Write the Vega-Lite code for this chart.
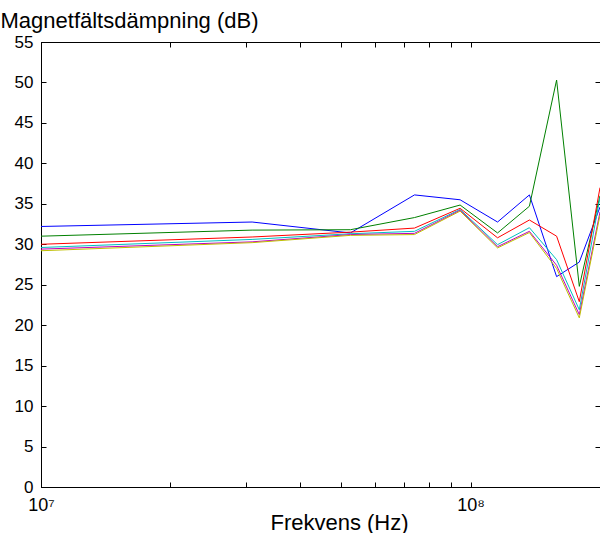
{
  "$schema": "https://vega.github.io/schema/vega-lite/v6.json",
  "width": 559,
  "height": 445,
  "autosize": {"type": "none"},
  "padding": {"left": 41, "top": 42, "right": 0, "bottom": 46},
  "background": "white",
  "config": {
    "font": "Liberation Sans",
    "view": {"stroke": "black", "strokeWidth": 1},
    "axis": {"grid": false, "domainColor": "black", "tickColor": "black", "labelColor": "black", "titleColor": "black", "labelFont": "Liberation Sans", "titleFont": "Liberation Sans", "titleFontWeight": "normal", "labelFontSize": 17, "titleFontSize": 22}
  },
  "data": {"values": [
    {"f": 1e7, "s": "1", "v": 32.2}, {"f": 3.1e7, "s": "1", "v": 32.75}, {"f": 5.25e7, "s": "1", "v": 31.4}, {"f": 7.4e7, "s": "1", "v": 36.1}, {"f": 9.45e7, "s": "1", "v": 35.5}, {"f": 1.155e8, "s": "1", "v": 32.75}, {"f": 1.37e8, "s": "1", "v": 36.1}, {"f": 1.585e8, "s": "1", "v": 26.0}, {"f": 1.79e8, "s": "1", "v": 27.8}, {"f": 2e8, "s": "1", "v": 34.6},
    {"f": 1e7, "s": "2", "v": 31.0}, {"f": 3.1e7, "s": "2", "v": 31.75}, {"f": 5.25e7, "s": "2", "v": 31.8}, {"f": 7.4e7, "s": "2", "v": 33.3}, {"f": 9.45e7, "s": "2", "v": 34.85}, {"f": 1.155e8, "s": "2", "v": 31.4}, {"f": 1.37e8, "s": "2", "v": 34.7}, {"f": 1.585e8, "s": "2", "v": 50.3}, {"f": 1.79e8, "s": "2", "v": 24.8}, {"f": 2e8, "s": "2", "v": 36.0},
    {"f": 1e7, "s": "3", "v": 30.0}, {"f": 3.1e7, "s": "3", "v": 30.9}, {"f": 5.25e7, "s": "3", "v": 31.5}, {"f": 7.4e7, "s": "3", "v": 32.0}, {"f": 9.45e7, "s": "3", "v": 34.45}, {"f": 1.155e8, "s": "3", "v": 30.8}, {"f": 1.37e8, "s": "3", "v": 33.0}, {"f": 1.585e8, "s": "3", "v": 31.0}, {"f": 1.79e8, "s": "3", "v": 22.9}, {"f": 2e8, "s": "3", "v": 37.0},
    {"f": 1e7, "s": "4", "v": 29.6}, {"f": 3.1e7, "s": "4", "v": 30.6}, {"f": 5.25e7, "s": "4", "v": 31.3}, {"f": 7.4e7, "s": "4", "v": 31.6}, {"f": 9.45e7, "s": "4", "v": 34.3}, {"f": 1.155e8, "s": "4", "v": 29.95}, {"f": 1.37e8, "s": "4", "v": 32.05}, {"f": 1.585e8, "s": "4", "v": 28.1}, {"f": 1.79e8, "s": "4", "v": 21.9}, {"f": 2e8, "s": "4", "v": 35.8},
    {"f": 1e7, "s": "5", "v": 29.4}, {"f": 3.1e7, "s": "5", "v": 30.3}, {"f": 5.25e7, "s": "5", "v": 31.2}, {"f": 7.4e7, "s": "5", "v": 31.35}, {"f": 9.45e7, "s": "5", "v": 34.2}, {"f": 1.155e8, "s": "5", "v": 29.7}, {"f": 1.37e8, "s": "5", "v": 31.6}, {"f": 1.585e8, "s": "5", "v": 27.4}, {"f": 1.79e8, "s": "5", "v": 21.3}, {"f": 2e8, "s": "5", "v": 34.0},
    {"f": 1e7, "s": "6", "v": 29.2}, {"f": 3.1e7, "s": "6", "v": 30.2}, {"f": 5.25e7, "s": "6", "v": 31.1}, {"f": 7.4e7, "s": "6", "v": 31.2}, {"f": 9.45e7, "s": "6", "v": 34.1}, {"f": 1.155e8, "s": "6", "v": 29.55}, {"f": 1.37e8, "s": "6", "v": 31.45}, {"f": 1.585e8, "s": "6", "v": 27.0}, {"f": 1.79e8, "s": "6", "v": 20.9}, {"f": 2e8, "s": "6", "v": 33.6}
  ]},
  "layer": [
    {
      "mark": {"type": "line", "strokeWidth": 1, "clip": true},
      "encoding": {
        "x": {"field": "f", "type": "quantitative", "scale": {"type": "log", "domain": [1e7, 2e8], "nice": false},
          "axis": {"orient": "bottom", "title": "Frekvens (Hz)", "titleX": 298, "values": [1e7, 2e7, 3e7, 4e7, 5e7, 6e7, 7e7, 8e7, 9e7, 1e8, 2e8], "labelExpr": "datum.value == 1e7 ? '10⁷' : (datum.value == 1e8 ? '10⁸' : '')", "tickSize": -5, "labelPadding": 14, "titlePadding": -2, "labelFlush": false, "labelOverlap": false, "labelFontSize": 18}},
        "y": {"field": "v", "type": "quantitative", "scale": {"domain": [0, 55], "nice": false},
          "axis": {"orient": "left", "values": [0, 5, 10, 15, 20, 25, 30, 35, 40, 45, 50, 55], "tickSize": -5, "labelPadding": 13, "title": "Magnetfältsdämpning (dB)", "titleAngle": 0, "titleAlign": "left", "titleBaseline": "alphabetic", "titleX": -41, "titleY": -15, "labelFlush": false}},
        "color": {"field": "s", "type": "nominal", "legend": null, "scale": {"domain": ["1", "2", "3", "4", "5", "6"], "range": ["#0000ff", "#008000", "#ff0000", "#00bfbf", "#bf00bf", "#bfbf00"]}}
      }
    },
    {
      "mark": {"type": "line", "opacity": 0, "clip": true},
      "encoding": {
        "x": {"field": "f", "type": "quantitative", "axis": {"orient": "top", "title": null, "labels": false, "values": [1e7, 2e7, 3e7, 4e7, 5e7, 6e7, 7e7, 8e7, 9e7, 1e8, 2e8], "tickSize": -5}},
        "y": {"field": "v", "type": "quantitative", "axis": {"orient": "right", "title": null, "labels": false, "values": [0, 5, 10, 15, 20, 25, 30, 35, 40, 45, 50, 55], "tickSize": -5}},
        "detail": {"field": "s"}
      }
    }
  ],
  "resolve": {"axis": {"x": "independent", "y": "independent"}}
}
